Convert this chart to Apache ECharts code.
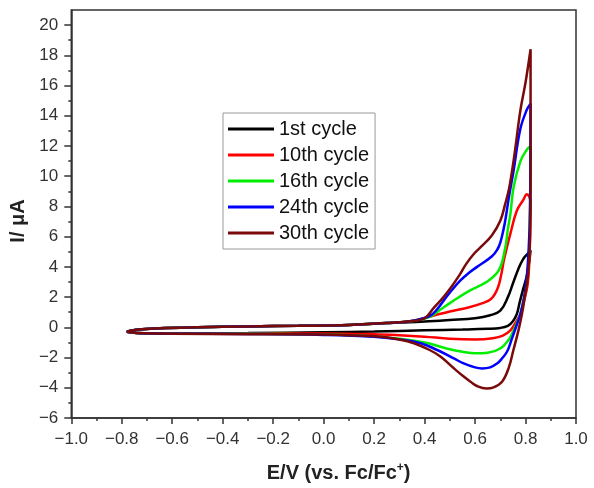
<!DOCTYPE html>
<html>
<head>
<meta charset="utf-8">
<script src="https://cdn.jsdelivr.net/npm/echarts@6/dist/echarts.min.js"></script>
<style>
  html, body { margin: 0; padding: 0; background: #fff; }
  #chart { width: 594px; height: 488px; }
</style>
</head>
<body>
<div id="chart"></div>
<script>
// CV loops: anodic sweep out to the vertex, then back. E in V, I in uA.
const cycleNames = ['1st cycle', '10th cycle', '16th cycle', '24th cycle', '30th cycle'];
const cycleColors = ['#000000', '#ff0000', '#00ee00', '#0000ff', '#7a0a0a'];

const c1E = [-0.78, -0.76, -0.72, -0.65, -0.5, -0.3, -0.1, 0.1, 0.25, 0.4, 0.5, 0.6, 0.66, 0.7, 0.73, 0.75, 0.77, 0.79, 0.81, 0.82,
  0.815, 0.805, 0.79, 0.776, 0.766, 0.75, 0.73, 0.7, 0.65, 0.55, 0.4, 0.2, 0.0, -0.3, -0.6, -0.74, -0.78];
const c1I = [-0.3, -0.2, -0.12, -0.06, 0.0, 0.06, 0.1, 0.16, 0.28, 0.38, 0.48, 0.6, 0.8, 1.1, 2.0, 2.9, 3.8, 4.5, 4.9, 5.1,
  4.4, 3.4, 2.5, 1.6, 0.9, 0.4, 0.1, -0.04, -0.1, -0.15, -0.2, -0.28, -0.33, -0.38, -0.4, -0.38, -0.3];

const c10E = [-0.78, -0.76, -0.72, -0.65, -0.5, -0.3, -0.1, 0.1, 0.25, 0.35, 0.43, 0.5, 0.57, 0.63, 0.665, 0.69, 0.705, 0.715, 0.74, 0.765, 0.79, 0.805, 0.82,
  0.818, 0.814, 0.808, 0.795, 0.78, 0.76, 0.74, 0.71, 0.67, 0.6, 0.5, 0.4, 0.3, 0.2, 0.0, -0.3, -0.6, -0.74, -0.78];
const c10I = [-0.3, -0.2, -0.12, -0.06, 0.0, 0.06, 0.1, 0.16, 0.28, 0.42, 0.75, 1.05, 1.3, 1.6, 1.9, 2.6, 3.6, 4.5, 6.2, 7.7, 8.4, 8.8, 8.3,
  6.0, 4.0, 2.8, 1.8, 0.9, 0.3, -0.2, -0.55, -0.72, -0.8, -0.75, -0.62, -0.52, -0.45, -0.4, -0.4, -0.42, -0.38, -0.3];

const c16E = [-0.78, -0.76, -0.72, -0.65, -0.5, -0.3, -0.1, 0.1, 0.25, 0.35, 0.42, 0.46, 0.5, 0.57, 0.65, 0.695, 0.72, 0.73, 0.74, 0.753, 0.78, 0.805, 0.82,
  0.818, 0.812, 0.8, 0.78, 0.766, 0.75, 0.733, 0.7, 0.65, 0.6, 0.55, 0.5, 0.45, 0.4, 0.3, 0.2, 0.0, -0.3, -0.6, -0.74, -0.78];
const c16I = [-0.3, -0.2, -0.12, -0.06, 0.0, 0.06, 0.1, 0.16, 0.28, 0.42, 0.7, 1.15, 1.6, 2.35, 3.05, 3.8, 5.3, 6.5, 7.5, 9.3, 11.0, 11.75, 12.0,
  8.0, 4.2, 2.4, 0.9, 0.3, -0.3, -0.83, -1.4, -1.68, -1.72, -1.62, -1.45, -1.22, -1.0, -0.75, -0.6, -0.48, -0.42, -0.42, -0.38, -0.3];

const c24E = [-0.78, -0.76, -0.72, -0.65, -0.5, -0.3, -0.1, 0.1, 0.25, 0.35, 0.42, 0.45, 0.477, 0.51, 0.542, 0.575, 0.608, 0.667, 0.69, 0.7, 0.713, 0.72, 0.735, 0.753, 0.779, 0.805, 0.82,
  0.818, 0.812, 0.8, 0.78, 0.766, 0.745, 0.727, 0.705, 0.687, 0.66, 0.628, 0.6, 0.55, 0.516, 0.45, 0.385, 0.3, 0.2, 0.0, -0.3, -0.6, -0.74, -0.78];
const c24I = [-0.3, -0.2, -0.12, -0.06, 0.0, 0.06, 0.1, 0.16, 0.28, 0.42, 0.75, 1.2, 1.8, 2.5, 3.1, 3.6, 4.0, 4.7, 5.2, 5.6, 6.5, 7.1, 8.7, 10.4, 13.1, 14.4, 14.8,
  8.0, 5.0, 2.6, 0.9, 0.2, -0.8, -1.6, -2.1, -2.4, -2.65, -2.72, -2.65, -2.35, -2.05, -1.5, -1.05, -0.8, -0.62, -0.5, -0.44, -0.42, -0.38, -0.3];

const c30E = [-0.78, -0.76, -0.72, -0.65, -0.5, -0.3, -0.1, 0.1, 0.25, 0.35, 0.4, 0.437, 0.47, 0.503, 0.54, 0.565, 0.595, 0.625, 0.667, 0.7, 0.72, 0.735, 0.755, 0.78, 0.8, 0.82,
  0.82, 0.818, 0.81, 0.795, 0.786, 0.772, 0.752, 0.733, 0.707, 0.674, 0.645, 0.61, 0.582, 0.555, 0.516, 0.464, 0.42, 0.358, 0.3, 0.227, 0.1, 0.0, -0.3, -0.6, -0.74, -0.78];
const c30I = [-0.3, -0.2, -0.12, -0.06, 0.0, 0.06, 0.1, 0.16, 0.28, 0.42, 0.6, 1.3, 1.9, 2.6, 3.5, 4.2, 4.85, 5.35, 6.1, 7.05, 8.2, 9.2, 11.3, 14.4, 16.2, 18.4,
  10.0, 6.0, 3.5, 1.8, 0.9, -0.2, -1.5, -2.7, -3.6, -3.97, -4.05, -3.9, -3.6, -3.26, -2.71, -1.94, -1.5, -1.05, -0.8, -0.62, -0.52, -0.48, -0.45, -0.42, -0.38, -0.3];

const cycleE = [c1E, c10E, c16E, c24E, c30E];
const cycleI = [c1I, c10I, c16I, c24I, c30I];

const yMajorTicks = [-6, -4, -2, 0, 2, 4, 6, 8, 10, 12, 14, 16, 18, 20];
const yMinorTicks = [-5, -3, -1, 1, 3, 5, 7, 9, 11, 13, 15, 17, 19];

const axisColor = '#333';
const fmtNum = v => (Math.abs(v) < 1e-9 ? '0' : String(v)).replace('-', '\u2212');
const fmtX = v => (Math.abs(v) < 1e-9 ? 0 : v).toFixed(1).replace('-', '\u2212');

const chart = echarts.init(document.getElementById('chart'));

chart.setOption({
  animation: false,
  grid: {
    left: 69, right: 18, top: 10, bottom: 70,
    show: true, borderColor: axisColor, borderWidth: 1.5,
  },
  legend: {
    data: cycleNames,
    orient: 'vertical',
    left: 223, top: 113,
    icon: 'rect',
    itemWidth: 46, itemHeight: 3, itemGap: 6,
    padding: [6, 6, 6, 5],
    borderColor: '#999', borderWidth: 1,
    backgroundColor: '#fff',
    textStyle: { fontFamily: 'Liberation Sans, Arial', fontSize: 20, color: '#111' },
  },
  xAxis: {
    type: 'value',
    min: -1, max: 1, interval: 0.2,
    name: 'E/V (vs. Fc/Fc{sup|+})',
    nameLocation: 'middle', nameGap: 44,
    nameTextStyle: {
      fontFamily: 'Liberation Sans, Arial', fontSize: 20, fontWeight: 'bold', color: '#222',
      padding: [0, 0, 0, 30],
      rich: { sup: { fontSize: 12, fontWeight: 'bold', verticalAlign: 'top', padding: [0, 0, 10, 0], color: '#222' } },
    },
    axisLine: { onZero: false, lineStyle: { color: axisColor, width: 1.5 } },
    axisTick: { length: 6, lineStyle: { color: axisColor, width: 1.5 } },
    minorTick: { show: true, splitNumber: 2, length: 3, lineStyle: { color: axisColor, width: 1.5 } },
    axisLabel: { fontFamily: 'Liberation Sans, Arial', fontSize: 17, color: '#333', margin: 13, formatter: fmtX },
    splitLine: { show: false },
  },
  yAxis: [
    {
      type: 'value',
      position: 'left',
      min: -6, max: 21,
      name: 'I/ \u03bcA',
      nameLocation: 'middle', nameGap: 36,
      nameTextStyle: { fontFamily: 'Liberation Sans, Arial', fontSize: 20, fontWeight: 'bold', color: '#222', padding: [0, 14, 0, 0] },
      axisLine: { show: true, onZero: false, lineStyle: { color: axisColor, width: 1.5 } },
      axisTick: { show: true, length: 7, customValues: yMajorTicks, lineStyle: { color: axisColor, width: 1.5 } },
      axisLabel: { fontFamily: 'Liberation Sans, Arial', fontSize: 17, color: '#333', margin: 13, customValues: yMajorTicks, formatter: fmtNum },
      splitLine: { show: false },
    },
    {
      type: 'value',
      position: 'left',
      offset: 0,
      min: -6, max: 21,
      axisLine: { show: false, onZero: false },
      axisTick: { show: true, length: 3, customValues: yMinorTicks, lineStyle: { color: axisColor, width: 1.5 } },
      axisLabel: { show: false },
      splitLine: { show: false },
    },
  ],
  series: cycleNames.map((name, k) => ({
    name,
    type: 'line',
    symbol: 'none',
    smooth: 0.4,
    color: cycleColors[k],
    lineStyle: { color: cycleColors[k], width: 2.5 },
    data: cycleE[k].map((e, i) => [e, cycleI[k][i]]),
  })),
});
</script>
</body>
</html>
